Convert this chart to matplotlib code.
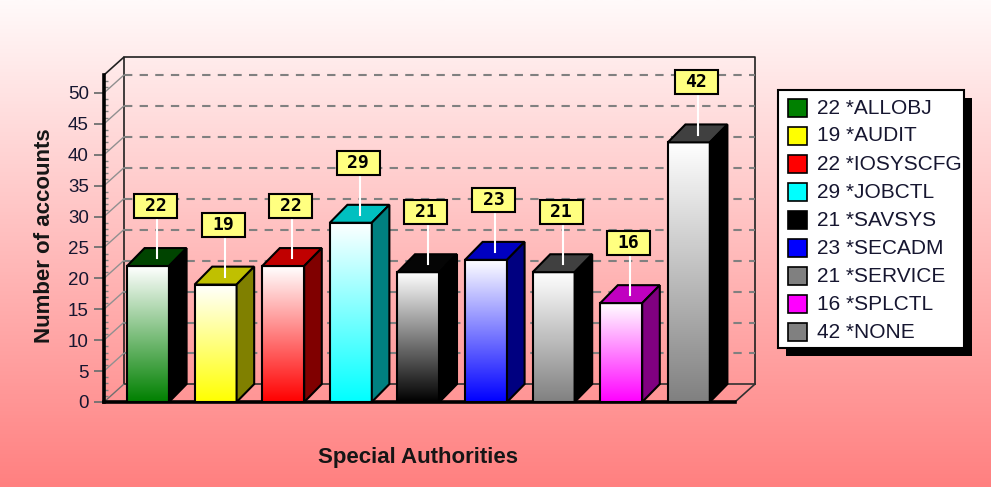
import numpy as np
import matplotlib
matplotlib.use("Agg")
import matplotlib.pyplot as plt
from matplotlib.colors import LinearSegmentedColormap
from matplotlib.patches import Polygon, Rectangle
from matplotlib.ticker import MultipleLocator

# -----------------------------
# Data
# -----------------------------
authorities = ["*ALLOBJ", "*AUDIT", "*IOSYSCFG", "*JOBCTL", "*SAVSYS",
               "*SECADM", "*SERVICE", "*SPLCTL", "*NONE"]
accounts = [22, 19, 22, 29, 21, 23, 21, 16, 42]
y_ticks = list(range(0, 51, 5))

# -----------------------------
# Styles
# -----------------------------
base_colors = ["#008000", "#ffff00", "#ff0000", "#00ffff", "#000000",
               "#0000ff", "#808080", "#ff00ff", "#808080"]
top_colors = ["#004400", "#c0c000", "#c00000", "#00c0c0", "#050505",
              "#0000c0", "#404040", "#c000c0", "#404040"]
side_colors = ["#000000", "#808000", "#800000", "#008080", "#000000",
               "#000080", "#000000", "#800080", "#000000"]

plt.rcParams["font.family"] = ["Liberation Sans", "DejaVu Sans"]

W, H = 991, 487


def fx(px):
    return px / W


def fy(py):
    return 1 - py / H


fig = plt.figure(figsize=(W / 100, H / 100), dpi=100)

# background gradient (white top -> salmon bottom)
bg = fig.add_axes([0, 0, 1, 1], zorder=-10)
grad = np.linspace(0, 1, 256).reshape(-1, 1)
bg_cmap = LinearSegmentedColormap.from_list("bg", ["#fffafa", "#ff8080"])
bg.imshow(grad, aspect="auto", cmap=bg_cmap, extent=(0, 1, 0, 1), origin="upper")
bg.set_axis_off()

# main axes (front plane)
ax = fig.add_axes([fx(104), fy(402), fx(735) - fx(104), fy(75) - fy(402)])
ax.patch.set_alpha(0)
XMIN, XMAX = -0.651, 8.683
YTOP = 52.9
DX, DY = 0.29, 2.85     # wall depth
BDX, BDY = 0.26, 2.9    # bar depth
BW = 0.621

# back wall & floor outline
bxl, bxr = XMIN + DX, XMAX + DX
ax.plot([bxl, bxl, bxr, bxr], [DY, YTOP + DY, YTOP + DY, DY], color="#202020", lw=1.2,
        clip_on=False, zorder=1)
ax.plot([bxl, bxr], [DY, DY], color="#303030", lw=1.2, clip_on=False, zorder=1)
ax.plot([XMAX, bxr], [0, DY], color="#303030", lw=1.2, clip_on=False, zorder=1)
ax.plot([XMIN, bxl], [YTOP, YTOP + DY], color="#202020", lw=1.2, clip_on=False, zorder=1)
ax.plot([XMIN, bxl], [0, DY], color="#707070", lw=1.0, clip_on=False, zorder=1)

for v in y_ticks[1:]:
    ax.plot([bxl, bxr], [v + DY, v + DY], color="#808080", lw=1.5,
            dashes=(4, 3.5), clip_on=False, zorder=1)
    ax.plot([XMIN, bxl], [v, v + DY], color="#909090", lw=1.0, clip_on=False, zorder=1)

# bars
for i, v in enumerate(accounts):
    xl = i - BW / 2
    cmap = LinearSegmentedColormap.from_list("b%d" % i, [base_colors[i], "#ffffff"])
    ax.imshow(grad, aspect="auto", cmap=cmap, extent=(xl, xl + BW, 0, v),
              origin="lower", zorder=3, clip_on=False)
    ax.add_patch(Rectangle((xl, 0), BW, v, fill=False, ec="black", lw=1.5,
                           zorder=4, clip_on=False))
    top = [(xl, v), (xl + BW, v), (xl + BW + BDX, v + BDY), (xl + BDX, v + BDY)]
    ax.add_patch(Polygon(top, closed=True, fc=top_colors[i], ec="black", lw=1.5,
                         zorder=4, clip_on=False))
    side = [(xl + BW, 0), (xl + BW + BDX, BDY), (xl + BW + BDX, v + BDY), (xl + BW, v)]
    ax.add_patch(Polygon(side, closed=True, fc=side_colors[i], ec="black", lw=1.5,
                         zorder=4, clip_on=False))

    # value label
    lx, ly = i + 0.11, v + 9.7
    ax.plot([i + 0.135, i + 0.135], [ly - 1.94, v + 1.25], color="white", lw=1.5,
            zorder=5, clip_on=False)
    ax.add_patch(Rectangle((lx - 0.318, ly - 1.94), 0.636, 3.88, fc="#ffff80",
                           ec="black", lw=1.5, zorder=6, clip_on=False))
    ax.text(lx, ly, str(v), ha="center", va="center", fontsize=13, fontweight="bold",
            family="DejaVu Sans Mono", color="black", zorder=7)

ax.set_xlim(XMIN, XMAX)
ax.set_ylim(0, YTOP)
ax.set_xticks([])
ax.set_yticks(y_ticks)
ax.yaxis.set_minor_locator(MultipleLocator(1))
ax.tick_params(axis="y", which="major", length=7, width=1.3, pad=4, color="#707070",
               labelsize=13.5, labelcolor="#161630")
ax.tick_params(axis="y", which="minor", length=3, width=1, direction="in", color="#808080")
for s in ["top", "right"]:
    ax.spines[s].set_visible(False)
ax.spines["left"].set_linewidth(2.6)
ax.spines["bottom"].set_linewidth(2.6)
ax.spines["left"].set_zorder(8)

# axis titles
fig.text(fx(45), fy(236), "Number of accounts", rotation=90, ha="center", va="center",
         fontsize=16, fontweight="bold", color="#161616")
fig.text(fx(418), fy(457), "Special Authorities", ha="center", va="center",
         fontsize=16, fontweight="bold", color="#161616")

# legend with shadow
lg_l, lg_t, lg_r, lg_b = 778, 90, 964, 348
fig.patches.append(Rectangle((fx(lg_l + 8), fy(lg_b + 8)), fx(lg_r - lg_l), fy(lg_t) - fy(lg_b),
                             transform=fig.transFigure, fc="black", ec="none", zorder=20))
fig.patches.append(Rectangle((fx(lg_l), fy(lg_b)), fx(lg_r - lg_l), fy(lg_t) - fy(lg_b),
                             transform=fig.transFigure, fc="white", ec="black", lw=1.5, zorder=21))
for k, (name, v) in enumerate(zip(authorities, accounts)):
    cy = 108 + 28 * k
    fig.patches.append(Rectangle((fx(788), fy(cy + 9)), fx(19), fy(0) - fy(18),
                                 transform=fig.transFigure, fc=base_colors[k], ec="black",
                                 lw=1.2, zorder=22))
    fig.text(fx(817), fy(cy), "%d %s" % (v, name), ha="left", va="center",
             fontsize=15, color="#161630", zorder=23)

fig.savefig("out.png", dpi=100)
